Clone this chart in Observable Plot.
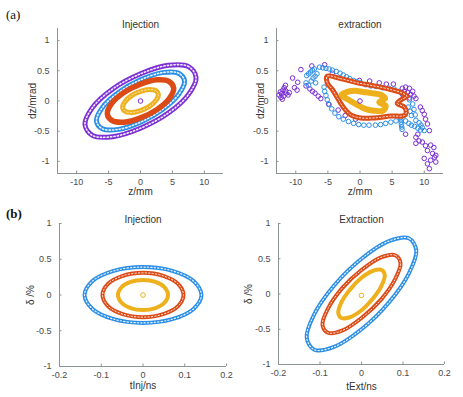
<!DOCTYPE html>
<html><head><meta charset="utf-8">
<script src="https://cdn.jsdelivr.net/npm/d3@7"></script>
<script src="https://cdn.jsdelivr.net/npm/@observablehq/plot@0.6"></script>
<style>
body{margin:0;background:#fff;}
#wrap{position:relative;width:463px;height:397px;overflow:hidden;background:#fff;font-family:"Liberation Sans",Arial,sans-serif;}
.panel{position:absolute;}
.panel svg{overflow:visible;}
.tag{position:absolute;font-family:"Liberation Serif","Times New Roman",serif;font-size:13px;line-height:13px;color:#111;}
</style></head><body><div id="wrap"></div>
<script>
// ---------- data ----------
// (a) Injection: z [mm] vs dz [mrad]
const injA_purple = [[8.7,0.39],[7.53,0.57],[4.35,0.59],[0,0.45],[-4.35,0.20],[-7.53,-0.11],[-8.7,-0.39],[-7.53,-0.57],[-4.35,-0.59],[0,-0.45],[4.35,-0.20],[7.53,0.11]];
const injA_blue   = [[6.9,0.33],[5.98,0.46],[3.45,0.47],[0,0.35],[-3.45,0.14],[-5.98,-0.11],[-6.9,-0.33],[-5.98,-0.46],[-3.45,-0.47],[0,-0.35],[3.45,-0.14],[5.98,0.11]];
const injA_red    = [[5.2,0.21],[4.5,0.32],[2.6,0.35],[0,0.28],[-2.6,0.14],[-4.5,-0.04],[-5.2,-0.21],[-4.5,-0.32],[-2.6,-0.35],[0,-0.28],[2.6,-0.14],[4.5,0.04]];
const injA_yellow = [[2.8,0.10],[2.42,0.17],[1.4,0.19],[0,0.16],[-1.4,0.09],[-2.42,-0.01],[-2.8,-0.10],[-2.42,-0.17],[-1.4,-0.19],[0,-0.16],[1.4,-0.09],[2.42,0.01]];
const injA_centre = [[0,0]];

// (a) extraction
const extA_purple = [[-12.6,0.10],[-12.4,0.15],[-12.2,0.12],[-12.0,0.18],[-11.8,0.22],[-11.6,0.26],[-12.3,0.06],[-11.9,0.08],[-11.5,0.13],[-11.2,0.10],[-11.0,0.14],[-11.6,0.17],[-12.1,0.03],
  [-10.5,0.38],[-10.2,0.22],[-9.8,0.18],[-9.7,0.31],[-9.2,0.52],[-8.4,0.25],[-7.8,0.20],[-7.4,0.16],[-7.0,0.13],[-6.5,0.08],[-6.1,0.04],[-7.5,0.58],[-5.5,0.60],[-4.3,0.46],[-4.9,-0.05],[-3.4,-0.15],[-2.3,-0.24],[-0.7,-0.30],
  [-0.1,0.34],[1.5,0.33],[3.0,0.30],[4.1,0.28],[5.2,0.28],
  [6.6,0.21],[7.1,0.23],[7.7,0.21],[6.9,0.16],[7.4,0.14],[7.9,0.11],[8.4,0.08],[8.2,0.16],[8.7,0.04],[7.1,0.08],[7.7,0.05],[6.6,0.11],
  [9.4,-0.10],[9.7,-0.16],[10.0,-0.22],[10.2,-0.30],[10.5,-0.38],[10.8,-0.49],[9.0,-0.55],[8.7,-0.60],[9.2,-0.66],[8.7,-0.70],[9.7,-0.68],[10.2,-0.74],[11.0,-0.73],[11.5,-0.77],[10.5,-0.82],[11.3,-0.87],[11.8,-0.90],[10.0,-0.95],[11.0,-0.98],[10.5,-1.04],[11.8,-1.01],[10.8,-1.12],[7.1,-0.55],[11.6,-0.93]];
const extA_blue = [[-8.3,0.42],[-8.0,0.45],[-7.7,0.48],[-7.4,0.51],[-7.1,0.53],[-8.4,0.30],[-8.0,0.26],[-7.6,0.33],[-7.3,0.38],[-7.0,0.41],[-6.7,0.45],[-6.9,0.30],
  [-6.3,0.56],[-5.8,0.55],[-5.3,0.54],[-4.8,0.53],[-4.3,0.51],[-3.7,0.49],[-3.1,0.46],[-2.6,0.43],[-2.1,0.40],[-1.6,0.37],[-1.0,0.34],[-0.5,0.32],[0.1,0.30],[0.9,0.27],[1.7,0.25],[2.5,0.24],[3.5,0.22],[4.5,0.21],[5.3,0.20],[6.1,0.16],[6.6,0.12],[7.1,0.08],[7.7,0.02],[8.2,-0.05],[8.4,-0.14],[8.6,-0.23],[8.7,-0.32],[9.2,-0.36],[9.5,-0.40],[9.7,-0.44],[10.0,-0.49],
  [7.1,-0.33],[7.6,-0.37],[8.0,-0.40],[8.5,-0.42],[9.0,-0.45],[9.4,-0.48],
  [6.3,-0.27],[6.35,-0.31],[6.4,-0.35],[6.45,-0.39],[6.5,-0.43],[6.55,-0.47],
  [5.6,-0.33],[4.8,-0.35],[4.0,-0.37],[3.2,-0.39],[2.4,-0.40],[1.4,-0.40],[0.6,-0.40],[-0.2,-0.39],[-1.0,-0.37],[-1.8,-0.34],[-2.6,-0.30],[-3.3,-0.26],[-3.9,-0.20],[-4.4,-0.13],[-4.8,-0.06],[-5.1,0.02],[-5.3,0.09],[-5.5,0.16],[-5.6,0.23],
  [7.5,-0.10],[7.8,-0.17],[8.0,-0.24]];
const extA_red = [[-5.1,0.41],[-3.0,0.37],[-0.4,0.30],[2.2,0.25],[4.8,0.19],[6.6,0.13],[7.3,0.08],[6.4,0.02],[5.8,-0.04],[6.9,-0.10],[7.2,-0.19],[6.9,-0.24],[4.8,-0.25],[2.2,-0.28],[0.1,-0.28],[-1.45,-0.23],[-2.75,-0.08],[-3.5,0.05],[-4.3,0.19],[-5.1,0.30]];
const extA_yellow = [[-2.9,0.10],[-2.0,0.15],[-0.8,0.17],[0.5,0.15],[1.8,0.13],[3.3,0.10],[3.9,0.04],[3.0,-0.02],[4.0,-0.08],[3.6,-0.16],[2.2,-0.16],[0.8,-0.13],[-0.5,-0.06],[-1.8,0.02]];
const extA_centre = [[0,0]];

// (b) Injection: t [ns] vs delta [%]
const injB_blue   = [[0.14,0],[0.121,0.195],[0.07,0.338],[0,0.39],[-0.07,0.338],[-0.121,0.195],[-0.14,0],[-0.121,-0.195],[-0.07,-0.338],[0,-0.39],[0.07,-0.338],[0.121,-0.195]];
const injB_red    = [[0.097,0],[0.084,0.155],[0.0485,0.268],[0,0.31],[-0.0485,0.268],[-0.084,0.155],[-0.097,0],[-0.084,-0.155],[-0.0485,-0.268],[0,-0.31],[0.0485,-0.268],[0.084,-0.155]];
const injB_yellow = [[0.06,0],[0.052,0.105],[0.03,0.182],[0,0.21],[-0.03,0.182],[-0.052,0.105],[-0.06,0],[-0.052,-0.105],[-0.03,-0.182],[0,-0.21],[0.03,-0.182],[0.052,-0.105]];
const injB_centre = [[0,0]];

// (b) Extraction
const extB_blue   = [[0.132,0.62],[0.114,0.79],[0.066,0.75],[0,0.50],[-0.066,0.12],[-0.114,-0.29],[-0.132,-0.62],[-0.114,-0.79],[-0.066,-0.75],[0,-0.50],[0.066,-0.12],[0.114,0.29]];
const extB_red    = [[0.094,0.44],[0.081,0.55],[0.047,0.52],[0,0.34],[-0.047,0.08],[-0.081,-0.21],[-0.094,-0.44],[-0.081,-0.55],[-0.047,-0.52],[0,-0.34],[0.047,-0.08],[0.081,0.21]];
const extB_yellow = [[0.056,0.27],[0.0485,0.34],[0.028,0.33],[0,0.23],[-0.028,0.06],[-0.0485,-0.12],[-0.056,-0.27],[-0.0485,-0.34],[-0.028,-0.33],[0,-0.23],[0.028,-0.06],[0.0485,0.12]];
const extB_centre = [[0,-0.02]];

// axes ticks / labels
const zTicks = [-10, -5, 0, 5, 10];
const dzTicks = [-1, -0.5, 0, 0.5, 1];
const tTicks = [-0.2, -0.1, 0, 0.1, 0.2];
const deltaTicks = [-1, -0.5, 0, 0.5, 1];
const zDomain = [-13, 13], dzDomain = [-1.2, 1.2];
const tDomain = [-0.2, 0.2], deltaDomain = [-1, 1];

// ---------- styles ----------
const C = {purple:"#7b2fd4", blue:"#2b8ee6", red:"#dc4a16", yellow:"#eeb01c"};
const AXIS = "#8c9494", TICKTXT = "#4a4a4a", LABTXT = "#333";

const toObj = pts => pts.map(([x, y]) => ({x, y}));

function ring(pts, color, w, hole) {
  const d = toObj(pts);
  const m = [Plot.line(d, {x:"x", y:"y", curve:"catmull-rom-closed", stroke:color, strokeWidth:w, strokeLinejoin:"round"})];
  if (hole > 0) m.push(Plot.line(d, {x:"x", y:"y", curve:"catmull-rom-closed", stroke:"white", strokeWidth:hole, strokeDasharray:"1.3,2.1", strokeOpacity:0.9}));
  return m;
}
function scatter(pts, color) {
  return Plot.dot(toObj(pts), {x:"x", y:"y", r:2.3, stroke:color, strokeWidth:1, fill:"none"});
}

function panel(cfg) {
  const marks = [
    Plot.ruleY([cfg.yDomain[0]], {stroke:AXIS, strokeWidth:1}),
    Plot.ruleX([cfg.xDomain[0]], {stroke:AXIS, strokeWidth:1}),
    Plot.axisX(cfg.xTicks, {anchor:"bottom", tickSize:-2.5, tickPadding:7.5, tickFormat:d => String(d), stroke:AXIS, fill:TICKTXT, fontSize:9, label:null}),
    Plot.axisY(cfg.yTicks, {anchor:"left", tickSize:-2.5, tickPadding:10.5, tickFormat:d => String(d), stroke:AXIS, fill:TICKTXT, fontSize:9, label:null}),
    ...cfg.marks,
    Plot.text([cfg.title], {frameAnchor:"top", dy:cfg.titleDy, fontSize:10, fill:LABTXT, textAnchor:"middle"}),
    Plot.text([cfg.xLabel], {frameAnchor:"bottom", dy:cfg.xLabDy, fontSize:10, fill:LABTXT, textAnchor:"middle"}),
    Plot.text([cfg.yLabel], {frameAnchor:"left", dx:cfg.yLabDx, rotate:-90, fontSize:10, fill:LABTXT, textAnchor:"middle"})
  ];
  const svg = Plot.plot({
    width:cfg.w, height:cfg.h,
    marginLeft:cfg.ml, marginRight:cfg.mr, marginTop:cfg.mt, marginBottom:cfg.mb,
    x:{domain:cfg.xDomain}, y:{domain:cfg.yDomain},
    style:{fontFamily:'"Liberation Sans", Arial, sans-serif', background:"transparent", overflow:"visible"},
    marks
  });
  const div = document.createElement("div");
  div.className = "panel";
  div.style.left = cfg.left + "px";
  div.style.top = cfg.top + "px";
  div.appendChild(svg);
  document.getElementById("wrap").appendChild(div);
}

panel({left:0, top:0, w:232, h:200, ml:57, mr:9, mt:28, mb:27,
  xDomain:zDomain, yDomain:dzDomain, xTicks:zTicks, yTicks:dzTicks,
  title:"Injection", titleDy:-8, xLabel:"z/mm", xLabDy:21, yLabel:"dz/mrad", yLabDx:-25,
  marks:[...ring(injA_purple, C.purple, 5, 1.6), ...ring(injA_blue, C.blue, 5, 1.6), ...ring(injA_red, C.red, 5.5, 0), ...ring(injA_yellow, C.yellow, 5, 0.8),
         scatter(injA_centre, C.purple)]});

panel({left:232, top:0, w:231, h:200, ml:44, mr:20, mt:28, mb:27,
  xDomain:zDomain, yDomain:dzDomain, xTicks:zTicks, yTicks:dzTicks,
  title:"extraction", titleDy:-8, xLabel:"z/mm", xLabDy:21, yLabel:"dz/mrad", yLabDx:-16,
  marks:[scatter(extA_purple, C.purple), scatter(extA_blue, C.blue), ...ring(extA_red, C.red, 5, 1.0), ...ring(extA_yellow, C.yellow, 6, 0),
         scatter(extA_centre, C.purple)]});

panel({left:0, top:200, w:232, h:197, ml:59, mr:6, mt:23, mb:31,
  xDomain:tDomain, yDomain:deltaDomain, xTicks:tTicks, yTicks:deltaTicks,
  title:"Injection", titleDy:-8, xLabel:"tInj/ns", xLabDy:22.5, yLabel:"δ /%", yLabDx:-29,
  marks:[...ring(injB_blue, C.blue, 4, 1.2), ...ring(injB_red, C.red, 4, 1.0), ...ring(injB_yellow, C.yellow, 4, 0),
         scatter(injB_centre, C.yellow)]});

panel({left:232, top:200, w:231, h:197, ml:46, mr:19, mt:23, mb:33,
  xDomain:tDomain, yDomain:deltaDomain, xTicks:tTicks, yTicks:deltaTicks,
  title:"Extraction", titleDy:-8, xLabel:"tExt/ns", xLabDy:25.5, yLabel:"δ /%", yLabDx:-30,
  marks:[...ring(extB_blue, C.blue, 4, 1.2), ...ring(extB_red, C.red, 4, 1.0), ...ring(extB_yellow, C.yellow, 4, 0),
         scatter(extB_centre, C.yellow)]});

// panel tags
const tagA = document.createElement("div"); tagA.className = "tag"; tagA.textContent = "(a)";
tagA.style.left = "6px"; tagA.style.top = "8px";
const tagB = document.createElement("div"); tagB.className = "tag"; tagB.textContent = "(b)";
tagB.style.left = "6px"; tagB.style.top = "207px"; tagB.style.fontWeight = "bold";
document.getElementById("wrap").append(tagA, tagB);
</script></body></html>
